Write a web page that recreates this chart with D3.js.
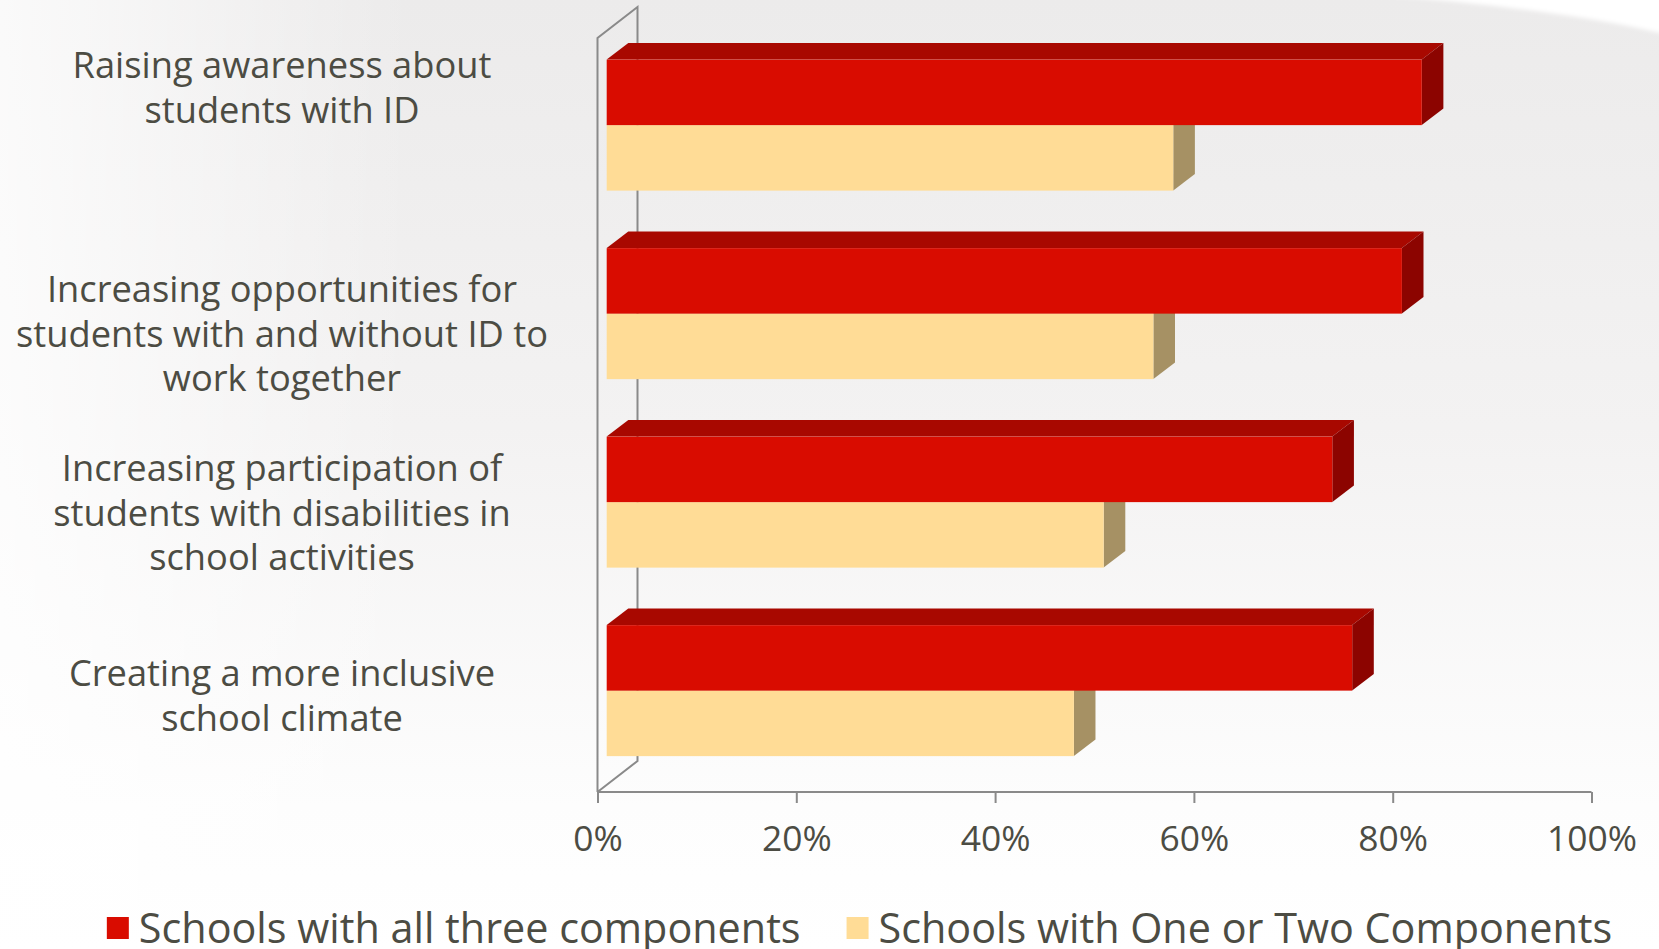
<!DOCTYPE html>
<html>
<head>
<meta charset="utf-8">
<script src="https://cdn.jsdelivr.net/npm/d3@7"></script>
<style>
html,body{margin:0;padding:0;background:#fff;}
svg{display:block;}
</style>
</head>
<body>
<svg id="chart" width="1659" height="949"></svg>
<script>
// ---------------- data ----------------
const categories = [
  "Raising awareness about students with ID",
  "Increasing opportunities for students with and without ID to work together",
  "Increasing participation of students with disabilities in school activities",
  "Creating a more inclusive school climate"
];
const categoryLines = [
  ["Raising awareness about", "students with ID"],
  ["Increasing opportunities for", "students with and without ID to", "work together"],
  ["Increasing participation of", "students with disabilities in", "school activities"],
  ["Creating a more inclusive", "school climate"]
];
const seriesNames = ["Schools with all three components", "Schools with One or Two Components"];
const allThree = [82, 80, 73, 75];
const oneOrTwo = [57, 55, 50, 47];
const tickValues = [0, 20, 40, 60, 80, 100];
const tickLabels = ["0%", "20%", "40%", "60%", "80%", "100%"];

// ---------------- styling / layout ----------------
const W = 1659, H = 949;
const FONT = "'Open Sans', 'Noto Sans', sans-serif";
const TEXT = "#4c4c43";
const AXIS = "#8a8a8a";
const faces = {
  [seriesNames[0]]: {front: "#d90c00", top: "#a80800", side: "#8c0400"},
  [seriesNames[1]]: {front: "#ffdc96", top: "#d8bb80", side: "#a69164"}
};
const plot = {x0: 597.5, x1: 1591.5, y0: 38, y1: 792};
const depth = {dx: 40, dy: -31};
const barDepth = [0.23, 0.77];
const labelCenterX = 282;
const labelOffsets = [-44.5, 13.5, 3.8, -1.8]; // block centre relative to band centre
const labelLineH = 44.5;

const svg = d3.select("#chart");

// ---------------- background ----------------
const defs = svg.append("defs");
const bg = defs.append("linearGradient").attr("id", "bgv").attr("x1", 0).attr("y1", 0).attr("x2", 0).attr("y2", 1);
bg.append("stop").attr("offset", "0%").attr("stop-color", "#ecebeb");
bg.append("stop").attr("offset", "45%").attr("stop-color", "#f3f2f2");
bg.append("stop").attr("offset", "85%").attr("stop-color", "#fdfdfd");
bg.append("stop").attr("offset", "100%").attr("stop-color", "#ffffff");
const bgh = defs.append("linearGradient").attr("id", "bgh").attr("x1", 0).attr("y1", 0).attr("x2", 1).attr("y2", 0);
bgh.append("stop").attr("offset", "0%").attr("stop-color", "#ffffff").attr("stop-opacity", 0.75);
bgh.append("stop").attr("offset", "25%").attr("stop-color", "#ffffff").attr("stop-opacity", 0.0);
const blur = defs.append("filter").attr("id", "soft").attr("x", "-20%").attr("y", "-20%").attr("width", "140%").attr("height", "140%");
blur.append("feGaussianBlur").attr("stdDeviation", 2);

svg.append("rect").attr("width", W).attr("height", H).attr("fill", "url(#bgv)");
svg.append("rect").attr("width", W).attr("height", H).attr("fill", "url(#bgh)");
svg.append("path")
  .attr("d", "M1380,-5 C1470,2 1580,14 1665,34 L1665,-5 Z")
  .attr("fill", "#ffffff").attr("filter", "url(#soft)");

// ---------------- scales ----------------
const x = d3.scaleLinear().domain([0, 100]).range([plot.x0, plot.x1]);
const y = d3.scaleBand().domain(categories).range([plot.y0, plot.y1])
  .paddingInner(0.305).paddingOuter(0.1525);
const ySub = d3.scaleBand().domain(seriesNames).range([0, y.bandwidth()]).padding(0);

// ---------------- walls ----------------
const wall = svg.append("g").attr("fill", "none").attr("stroke", AXIS).attr("stroke-width", 2);
wall.append("path").attr("d", d3.line()([
  [plot.x0, plot.y1], [plot.x0, plot.y0],
  [plot.x0 + depth.dx, plot.y0 + depth.dy],
  [plot.x0 + depth.dx, plot.y1 + depth.dy],
  [plot.x0, plot.y1]
]));

// x axis
const xAxis = d3.axisBottom(x).tickValues(tickValues).tickSize(11)
  .tickFormat((d, i) => tickLabels[i]);
const gx = svg.append("g").attr("transform", `translate(0,${plot.y1})`).call(xAxis);
gx.select(".domain").attr("stroke", AXIS).attr("stroke-width", 2)
  .attr("d", `M${plot.x0},0H${plot.x1}`);
gx.selectAll(".tick line").attr("stroke", AXIS).attr("stroke-width", 2);
gx.selectAll(".tick text").attr("fill", TEXT).attr("font-family", FONT)
  .attr("dy", null).attr("y", 59).attr("font-size", 36);

// ---------------- bars ----------------
const rows = [];
categories.forEach((c, i) => {
  rows.push({cat: c, series: seriesNames[1], value: oneOrTwo[i]});
  rows.push({cat: c, series: seriesNames[0], value: allThree[i]});
});
const o0 = [barDepth[0] * depth.dx, barDepth[0] * depth.dy];
const o1 = [barDepth[1] * depth.dx, barDepth[1] * depth.dy];
const barG = svg.append("g");
rows.forEach(r => {
  const yt = y(r.cat) + ySub(r.series);
  const h = ySub.bandwidth();
  const xa = x(0), xb = x(r.value);
  const f = faces[r.series];
  const g = barG.append("g");
  g.append("path").attr("fill", f.top).attr("d", d3.line()([
    [xa + o0[0], yt + o0[1]], [xb + o0[0], yt + o0[1]],
    [xb + o1[0], yt + o1[1]], [xa + o1[0], yt + o1[1]]
  ]) + "Z");
  g.append("path").attr("fill", f.side).attr("d", d3.line()([
    [xb + o0[0], yt + o0[1]], [xb + o1[0], yt + o1[1]],
    [xb + o1[0], yt + h + o1[1]], [xb + o0[0], yt + h + o0[1]]
  ]) + "Z");
  g.append("rect").attr("fill", f.front)
    .attr("x", xa + o0[0]).attr("y", yt + o0[1])
    .attr("width", xb - xa).attr("height", h);
});

// ---------------- helpers for text sizing ----------------
function fitSize(str, targetW, base) {
  const t = svg.append("text").attr("font-family", FONT).attr("font-size", base).text(str);
  const w = t.node().getComputedTextLength();
  t.remove();
  return base * targetW / w;
}

// tick labels sized to match
const tickSize = Math.min(40, fitSize("100%", 90, 36));
gx.selectAll(".tick text").attr("font-size", tickSize);

// ---------------- category labels ----------------
const catSize = Math.min(40, fitSize("students with and without ID to", 532, 36));
const lab = svg.append("g").attr("font-family", FONT).attr("font-size", catSize)
  .attr("fill", TEXT).attr("text-anchor", "middle");
categories.forEach((c, i) => {
  const lines = categoryLines[i];
  const cy = y(c) + y.bandwidth() / 2 + labelOffsets[i];
  const firstCenter = cy - (lines.length - 1) * labelLineH / 2;
  lines.forEach((ln, j) => {
    lab.append("text").attr("x", labelCenterX)
      .attr("y", firstCenter + j * labelLineH).attr("dy", "0.35em").text(ln);
  });
});

// ---------------- legend ----------------
const legSize = Math.min(46, fitSize(seriesNames[0], 662, 40));
const leg = svg.append("g").attr("font-family", FONT).attr("font-size", legSize).attr("fill", TEXT);
const sq = 22, gapSq = 10, gapItem = 46, legBase = 943;
const widths = seriesNames.map(s => {
  const t = leg.append("text").text(s);
  const w = t.node().getComputedTextLength();
  t.remove();
  return w;
});
const total = sq + gapSq + widths[0] + gapItem + sq + gapSq + widths[1];
let lx = 859.5 - total / 2;
seriesNames.forEach((s, i) => {
  leg.append("rect").attr("x", lx).attr("y", legBase - 26).attr("width", sq).attr("height", sq)
    .attr("fill", faces[s].front);
  leg.append("text").attr("x", lx + sq + gapSq).attr("y", legBase).text(s);
  lx += sq + gapSq + widths[i] + gapItem;
});
</script>
</body>
</html>
